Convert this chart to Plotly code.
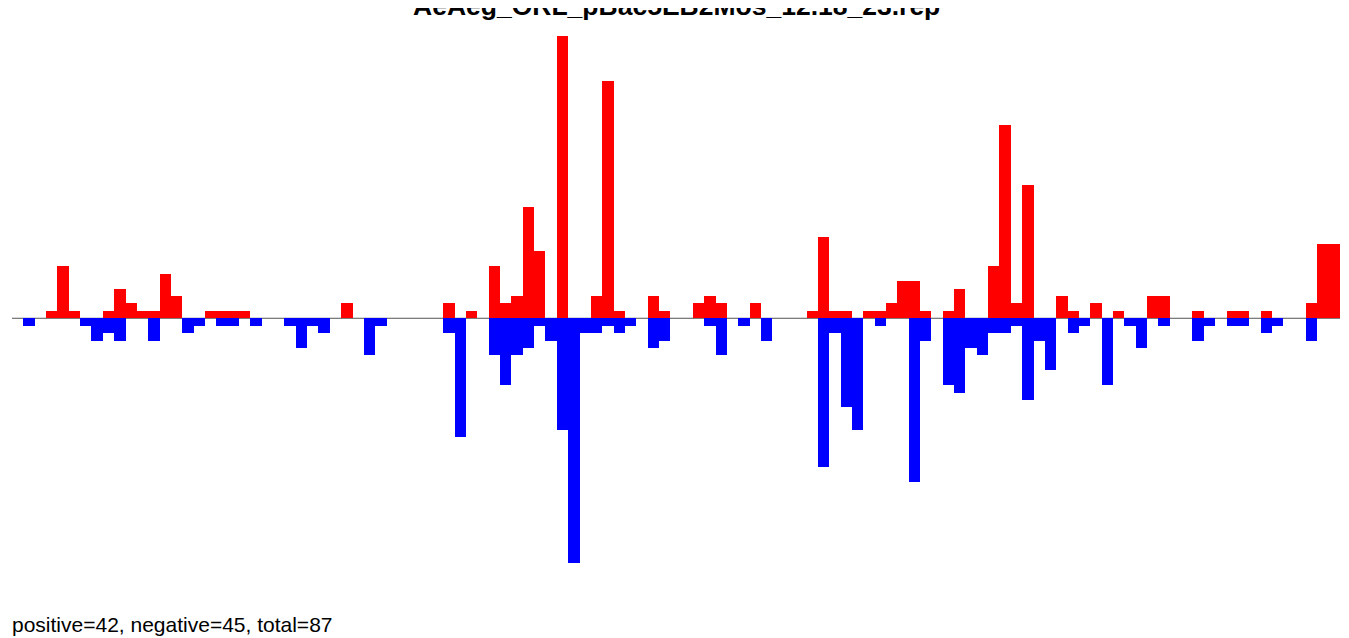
import plotly.graph_objects as go

title_text = "AeAeg_ORL_pBac5EB2Mos_12.18_23.rep"
footer_text = "positive=42, negative=45, total=87"

# per-bin counts, 117 bins
positive = [0, 0, 0, 1, 7, 1, 0, 0, 1, 4, 2, 1, 1, 6, 3, 0, 0, 1, 1, 1,
            1, 0, 0, 0, 0, 0, 0, 0, 0, 2, 0, 0, 0, 0, 0, 0, 0, 0, 2, 0,
            1, 0, 7, 2, 3, 15, 9, 0, 38, 0, 0, 3, 32, 1, 0, 0, 3, 1, 0, 0,
            2, 3, 2, 0, 0, 2, 0, 0, 0, 0, 1, 11, 1, 1, 0, 1, 1, 2, 5, 5,
            1, 0, 1, 4, 0, 0, 7, 26, 2, 18, 0, 0, 3, 1, 0, 2, 0, 1, 0, 0,
            3, 3, 0, 0, 1, 0, 0, 1, 1, 0, 1, 0, 0, 0, 2, 10, 10]
negative = [0, 1, 0, 0, 0, 0, 1, 3, 2, 3, 0, 0, 3, 0, 0, 2, 1, 0, 1, 1,
            0, 1, 0, 0, 1, 4, 1, 2, 0, 0, 0, 5, 1, 0, 0, 0, 0, 0, 2, 16,
            0, 0, 5, 9, 5, 4, 1, 3, 15, 33, 2, 2, 1, 2, 1, 0, 4, 3, 0, 0,
            0, 1, 5, 0, 1, 0, 3, 0, 0, 0, 0, 20, 2, 12, 15, 0, 1, 0, 0, 22,
            3, 0, 9, 10, 4, 5, 2, 2, 1, 11, 3, 7, 0, 2, 1, 0, 9, 0, 1, 4,
            0, 1, 0, 0, 3, 1, 0, 1, 1, 0, 2, 1, 0, 0, 3, 0, 0]

bins = list(range(len(positive)))
neg_vals = [-v for v in negative]

fig = go.Figure()
fig.add_trace(go.Bar(x=bins, y=positive, marker=dict(color="#FF0000", line=dict(width=0)),
                     width=1.0, hoverinfo="skip"))
fig.add_trace(go.Bar(x=bins, y=neg_vals, marker=dict(color="#0000FF", line=dict(width=0)),
                     width=1.0, hoverinfo="skip"))

fig.add_shape(type="line", xref="x", yref="y", x0=-0.5, x1=len(bins) - 0.5, y0=0, y1=0,
              line=dict(color="#555555", width=1), layer="below")

W, H = 1341, 630
fig.add_annotation(text="<b>" + title_text + "</b>", xref="paper", yref="paper",
                   x=0.5, y=1 + 2 / H, xanchor="center", yanchor="middle", showarrow=False,
                   font=dict(family="Liberation Sans, Arial", size=26.5, color="#000000"))
fig.add_annotation(text=footer_text, xref="paper", yref="paper",
                   x=0, y=0, xanchor="left", yanchor="bottom", showarrow=False, xshift=-2,
                   font=dict(family="Liberation Sans, Arial", size=21, color="#000000"))

fig.update_layout(
    width=W, height=H,
    margin=dict(l=4, r=9, t=0, b=0, autoexpand=False),
    paper_bgcolor="white", plot_bgcolor="white",
    barmode="overlay", bargap=0, showlegend=False,
    xaxis=dict(range=[-0.5, len(bins) - 0.5], visible=False, fixedrange=True),
    yaxis=dict(range=[-43.03, 41.76], visible=False, fixedrange=True),
)

fig.write_html("out.html", config={"displayModeBar": False})
